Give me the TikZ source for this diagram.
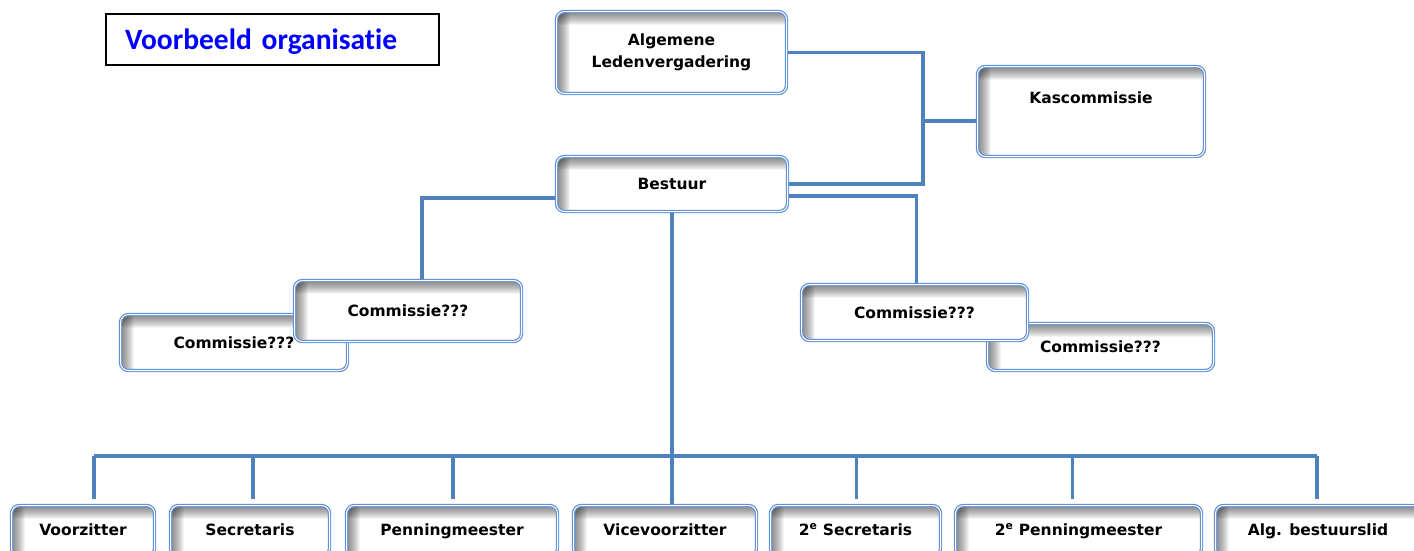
\documentclass[tikz,border=0pt]{standalone}
\usepackage{fontspec}
\setmainfont{DejaVu Sans}
\newfontfamily\titelfont[Ligatures=NoCommon]{Carlito}
\usetikzlibrary{backgrounds}
\definecolor{lijnblauw}{RGB}{79,129,189}
\definecolor{randblauw}{RGB}{98,145,212}
\definecolor{titelblauw}{RGB}{0,0,255}
\tikzset{
  blok/.style={rounded corners=8pt, draw=randblauw, double=white, line width=1.2pt,
    double distance=1pt, fill=white, align=center, inner sep=0pt,
    font=\fontsize{15.5}{22}\selectfont\bfseries,
    path picture={
      \foreach \i in {1,...,13}{
        \fill[black,opacity=0.045,sharp corners] (path picture bounding box.north west)
          rectangle ([xshift=\i pt]path picture bounding box.south west);
        \fill[black,opacity=0.045,sharp corners] (path picture bounding box.north west)
          rectangle ([yshift=-\i pt]path picture bounding box.north east);
      }
    }},
  bloktekst/.style={font=\fontsize{15.5}{22}\selectfont\bfseries, inner sep=0pt},
  titel/.style={draw=black, line width=2pt, minimum width=333pt, minimum height=51pt,
    text width=295pt, inner xsep=19pt, align=left, text=titelblauw,
    text height=24pt, text depth=4pt,
    font=\fontsize{29.5}{34}\selectfont\titelfont\bfseries},
  lijn/.style={lijnblauw, line width=3.5pt},
}
\begin{document}
\begin{tikzpicture}[x=1pt,y=-1pt]
  \useasboundingbox (0,0) rectangle (1414,550);
  \node[titel] (titel) at (272.5,39.5) {Voorbeeld organisatie};
  % top
  \node[blok, minimum width=230pt, minimum height=82pt] (alv) at (671.5,52.5) {Algemene\\Ledenvergadering};
  \node[blok, minimum width=227pt, minimum height=90pt, text depth=28pt] (kas) at (1091,111.5) {Kascommissie};
  \node[blok, minimum width=231pt, minimum height=55pt] (bestuur) at (672,184) {Bestuur};
  % commissies
  \node[blok, minimum width=227pt, minimum height=56pt] (comL2) at (234,342.5) {};
  \node[blok, minimum width=227pt, minimum height=61pt] (comL1) at (408,311) {Commissie???};
  \node[bloktekst] (comL2tekst) at (comL2) {Commissie???};
  \node[blok, minimum width=226pt, minimum height=47pt] (comR2) at (1100.5,347) {Commissie???};
  \node[blok, minimum width=226pt, minimum height=56pt] (comR1) at (914.5,312.5) {Commissie???};
  % bestuursleden
  \foreach \naam/\x/\b/\tekst in {voorz/83/143/Voorzitter, secr/250/159/Secretaris,
      penn/452/211/Penningmeester, vice/665/183/Vicevoorzitter,
      sec2/855.5/170/2\textsuperscript{e} Secretaris, penn2/1078.5/246/2\textsuperscript{e} Penningmeester,
      alg/1318/205/Alg. bestuurslid}
    {\node[blok, minimum width=\b pt, minimum height=51pt, text height=12pt, text depth=4pt] (\naam) at (\x,531) {\tekst};}
  % verbindingen
  \begin{scope}[on background layer]
    \coordinate (kj) at (923,121);
    \coordinate (bus) at (0,456);
    \draw[lijn] (alv.east) -| (kj) |- (bestuur.east);
    \draw[lijn] (kj) -- (kj -| kas.west);
    \draw[lijn] ([yshift=-14pt]bestuur.west) -| ([xshift=14pt]comL1.north);
    \draw[lijn] ([yshift=-12pt]bestuur.east) -| ([xshift=2pt]comR1.north);
    \draw[lijn] (bestuur.south) -- (bestuur.south |- vice.north);
    \draw[lijn] ([xshift=11pt]voorz.north |- bus) -- ([xshift=-1pt]alg.north |- bus);
    \foreach \naam/\d in {voorz/11,secr/3,penn/1,sec2/1,penn2/-6,alg/-1}
      \draw[lijn] ([xshift=\d pt]\naam.north |- bus) -- ([xshift=\d pt,yshift=6pt]\naam.north);
  \end{scope}
\end{tikzpicture}
\end{document}
